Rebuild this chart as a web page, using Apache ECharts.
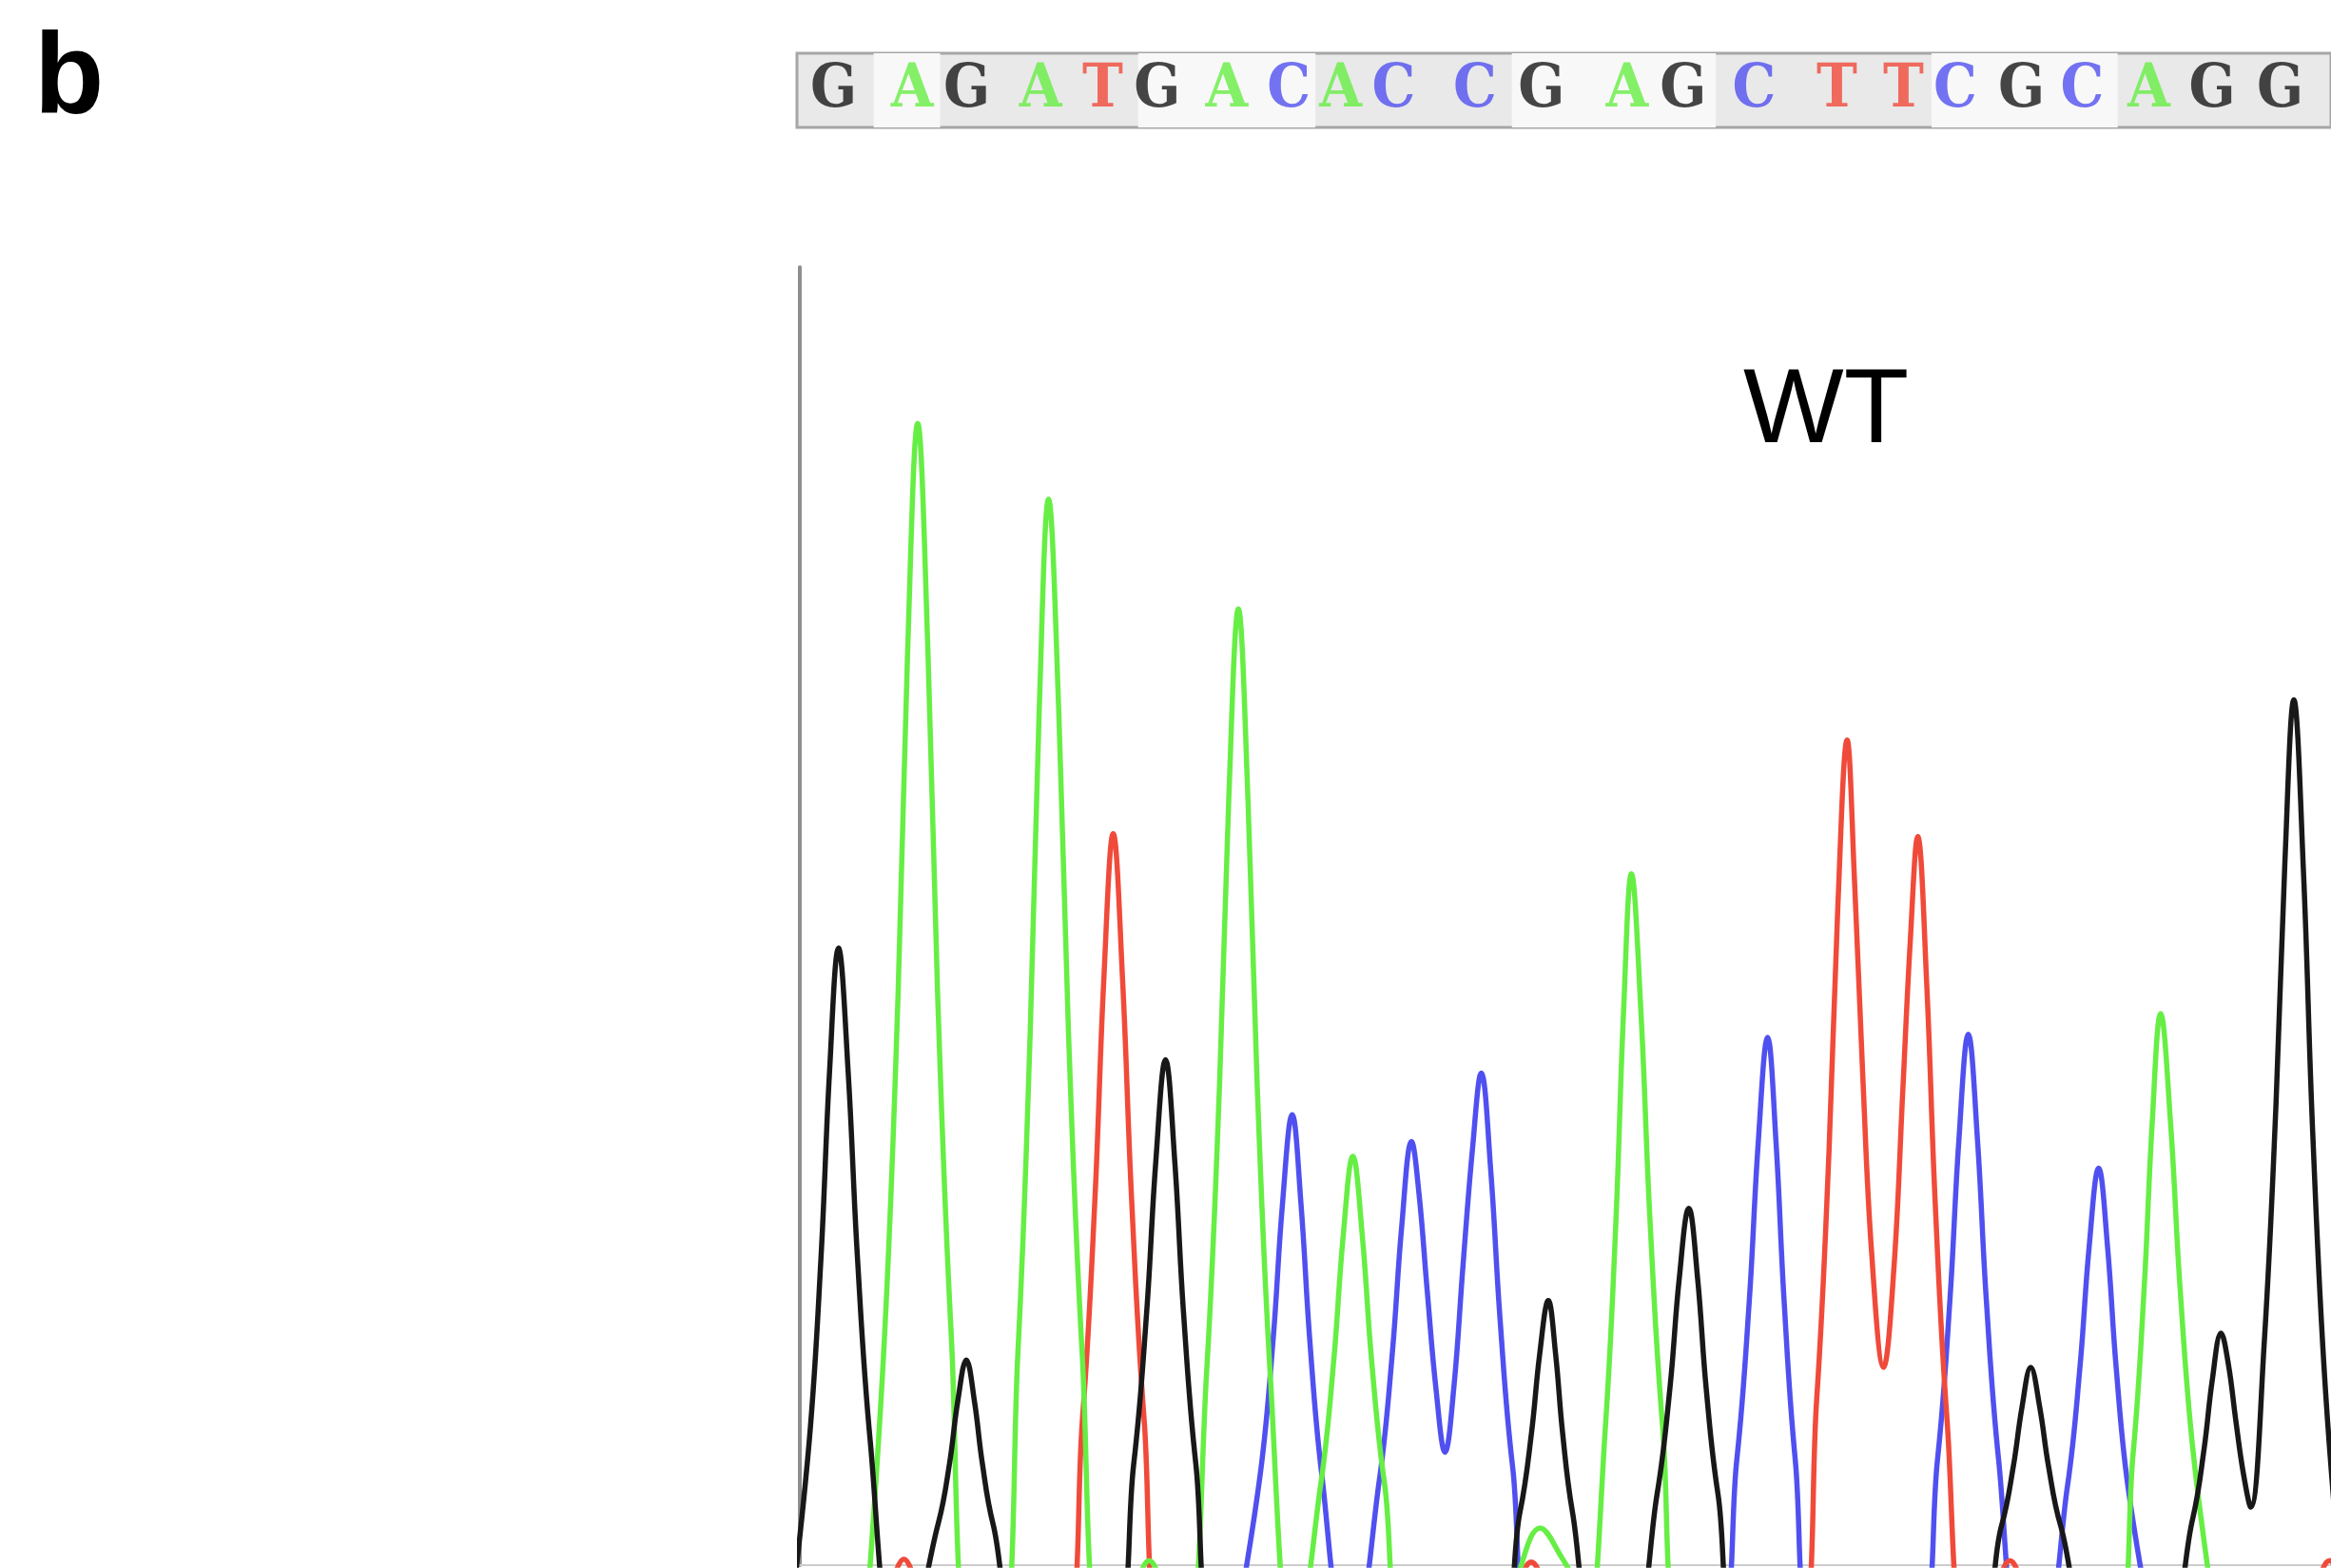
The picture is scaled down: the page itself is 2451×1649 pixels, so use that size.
<!DOCTYPE html>
<html>
<head>
<meta charset="utf-8">
<script src="https://cdn.jsdelivr.net/npm/echarts@6.0.0/dist/echarts.min.js"></script>
<style>
  html, body { margin: 0; padding: 0; background: #fff; }
  #chart { width: 2451px; height: 1649px; }
</style>
</head>
<body>
<div id="chart"></div>
<script>
// base calls shown in the sequence bar, and where each one sits along the trace
const baseCalls = ['G','A','G','A','T','G','A','C','A','C','C','G','A','G','C','T','T','C','G','C','A','G','G']
const callPos = [23, 76, 113, 163, 205, 242, 289, 331, 366, 402, 457, 502, 560, 598, 646, 702, 747, 782, 827, 868, 913, 956, 1002]
// lighter codon cells in the sequence bar [from, to]
const lightCells = [[50, 95], [229, 349], [482, 620], [766, 892]]

// trace points [scan position, signal] for each dye channel
// (the baseline lies under the bottom of the frame)
const traceG = [
	[-8,-50],[6.3,83],[14.3,208],[20,332],[26,415],[32.5,332],[38.7,208],[47.4,83],[62.8,-50],
	[69,-50],[93.1,28],[100.8,69],[106.2,110],[112,138],[117.5,110],[122.7,69],[129.9,28],[152.6,-50],
	[208,-50],[224.6,68],[233.3,170],[239.5,272],[246,340],[252.2,272],[258.1,170],[266.4,68],[282.2,-50],
	[464,-50],[484.5,36],[492.2,89],[497.7,142],[503.5,178],[508.4,142],[513.1,89],[519.7,36],[537.2,-50],
	[557.3,-50],[576.7,48],[585.4,120],[591.5,192],[598,240],[604,192],[609.6,120],[617.6,48],[635.6,-50],
	[783.4,-50],[808.5,27],[816.4,67],[822.1,106],[828,133],[834.1,106],[839.9,67],[848,27],[873.9,-50],
	[914.5,-50],[936.9,31],[944.6,78],[950.2,125],[956,156],[961,135],[966,97],[971,62],[976,39],
	[985,148],[993,310],[999,473],[1005,582],[1011.5,466],[1017.7,291],[1026.4,116],[1040,-50]
]
const traceA = [
	[43.7,-50],[57,154],[66.1,384],[72.5,614],[79.3,768],[86.2,614],[92.7,384],[101.9,154],[115.3,-50],
	[134.2,-50],[146.7,143],[155,359],[161,574],[167.3,717],[174.2,574],[180.7,359],[189.9,143],[203.5,-50],
	[221,-50],[228,-10],[235,3],[242,-10],[249,-50],
	[260.3,-50],[273.6,129],[282.3,322],[288.5,514],[295,643],[301.5,514],[307.7,322],[316.4,129],[329.7,-50],
	[332,-50],[350.5,55],[359.2,138],[365.4,220],[372,275],[378.5,220],[384.6,138],[393.3,55],[411.5,-50],
	[472,-50],[484,-4],[498,25],[512,6],[520,-10],[528,-50],
	[530,-50],[541.9,93],[549,232],[554.1,372],[559.4,465],[565.8,372],[571.9,232],[580.4,93],[594.9,-50],
	[882.8,-50],[896.8,74],[904.3,186],[909.7,297],[915.4,371],[922.1,297],[928.5,186],[937.5,74],[954.1,-50]
]
const traceT = [
	[56,-50],[63,-10],[70,4],[77,-10],[84,-50],
	[176.1,-50],[190.1,98],[198.5,246],[204.5,394],[210.8,492],[217.1,394],[223.2,246],[231.6,98],[245.8,-50],
	[478,-50],[485,-10],[492,2],[499,-10],[506,-50],
	[670.7,-50],[684,111],[692.3,278],[698.3,444],[704.5,555],[709.5,460],[715,330],[721,210],[729,133],
	[736,200],[742,320],[747,420],[752,490],[758,392],[763.7,245],[771.7,98],[785.1,-50],
	[800,-50],[807,-10],[814,3],[821,-10],[828,-50],
	[1015,-50],[1022,-10],[1029,3],[1036,-10],[1043,-50]
]
const traceC = [
	[292,-50],[309.7,61],[318.4,152],[324.6,242],[331.2,303],[337.2,242],[343,152],[351.1,61],[367.4,-50],
	[371.4,-50],[389.8,57],[398.6,143],[404.9,228],[411.5,285],[416.5,250],[422,185],[428,118],[434,76],
	[440,120],[446,200],[452.5,280],[458.4,331],[464.8,265],[471,166],[479.5,66],[496.2,-50],
	[614.5,-50],[630.3,71],[638.7,178],[644.7,284],[651,355],[656.7,284],[662.1,178],[669.6,71],[683.9,-50],
	[749.5,-50],[765.3,71],[773.7,179],[779.7,286],[786,357],[792.2,286],[798.1,179],[806.4,71],[821.9,-50],
	[834.5,-50],[852.7,53],[861.2,134],[867.3,214],[873.7,267],[879.7,214],[885.4,134],[893.4,53],[910.6,-50]
]

const baseColors = { G: '#181818', A: '#66ee44', T: '#f04a3a', C: '#5050f0' }

const chart = echarts.init(document.getElementById('chart'), null, { renderer: 'canvas' })

const traceSeries = (name, data) => ({
	name: name,
	type: 'line',
	xAxisIndex: 0,
	yAxisIndex: 0,
	data: data,
	smooth: 0.4,
	symbol: 'none',
	clip: true,
	lineStyle: { color: baseColors[name], width: 5.5 }
})

const option = {
	backgroundColor: '#ffffff',
	animation: false,
	title: [
		{ text: 'b', left: 31, top: 21, textStyle: { fontFamily: 'Liberation Sans', fontSize: 120, fontWeight: 'bold', color: '#000' } },
		{ text: 'WT', left: 1828, top: 373, textStyle: { fontFamily: 'Liberation Sans', fontSize: 112, fontWeight: 'normal', color: '#000' } }
	],
	grid: [
		{ left: 841, top: 281, right: 0, bottom: 3 },
		{ left: 838, top: 56, right: -10, height: 78, show: true, backgroundColor: '#e9e9e9', borderColor: '#a6a6a6', borderWidth: 3 }
	],
	xAxis: [
		{
			type: 'value', gridIndex: 0, min: 0, max: 1030,
			axisLine: { show: true, onZero: false, lineStyle: { color: '#cccccc', width: 2 } },
			axisTick: { show: false }, axisLabel: { show: false }, splitLine: { show: false }
		},
		{
			type: 'value', gridIndex: 1, min: -1.92, max: 1036.4,
			axisLine: { show: false }, axisTick: { show: false }, axisLabel: { show: false }, splitLine: { show: false }
		}
	],
	yAxis: [
		{
			type: 'value', gridIndex: 0, min: 0, max: 873,
			axisLine: { show: true, lineStyle: { color: '#8e8e8e', width: 4 } },
			axisTick: { show: false }, axisLabel: { show: false }, splitLine: { show: false }
		},
		{
			type: 'value', gridIndex: 1, min: -1, max: 1,
			axisLine: { show: false }, axisTick: { show: false }, axisLabel: { show: false }, splitLine: { show: false }
		}
	],
	series: [
		traceSeries('C', traceC),
		traceSeries('T', traceT),
		traceSeries('A', traceA),
		traceSeries('G', traceG),
		{
			type: 'scatter',
			xAxisIndex: 1,
			yAxisIndex: 1,
			symbolSize: 0,
			markArea: {
				silent: true,
				itemStyle: { color: '#f8f8f8' },
				data: lightCells.map(c => [{ xAxis: c[0] }, { xAxis: c[1] }])
			},
			data: baseCalls.map((b, i) => ({
				value: [callPos[i], 0],
				label: {
					show: true,
					position: 'inside',
					formatter: b,
					fontFamily: 'DejaVu Serif Condensed, DejaVu Serif',
					fontWeight: 'bold',
					fontSize: 64,
					color: baseColors[b]
				}
			}))
		}
	]
}

chart.setOption(option)
</script>
</body>
</html>
